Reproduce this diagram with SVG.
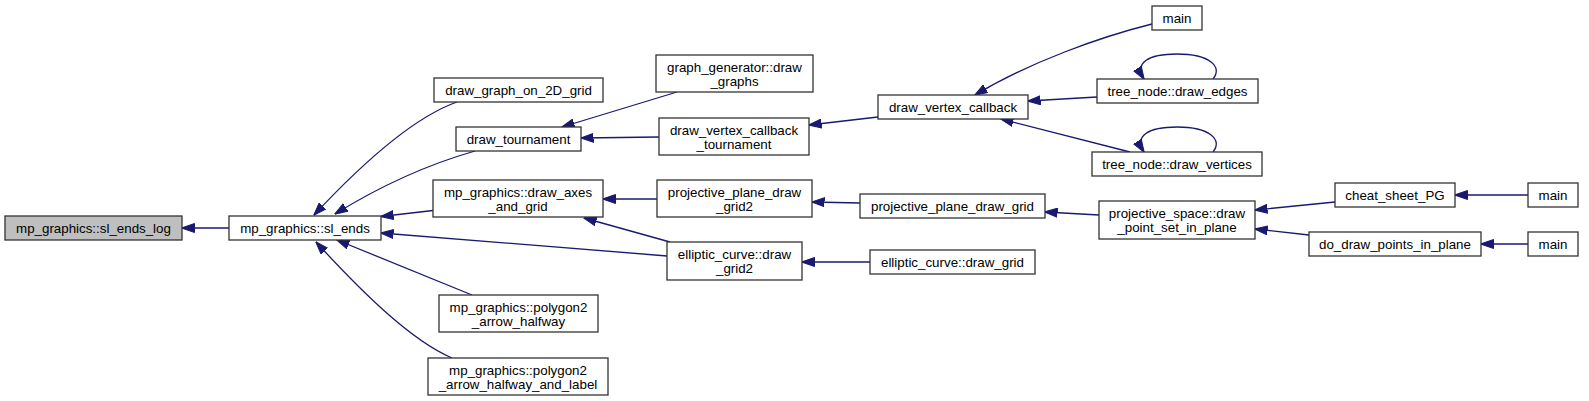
<svg xmlns="http://www.w3.org/2000/svg" width="1589" height="401" viewBox="0 0 1589 401">
<style>
.n rect{fill:#ffffff;stroke:#333333;stroke-width:1.3}
.n.hl rect{fill:#bfbfbf}
.n text{font-family:"Liberation Sans",Arial,Helvetica,sans-serif;font-size:13.33px;fill:#000000;text-anchor:middle}
.e path{fill:none;stroke:#191970;stroke-width:1.3;marker-end:url(#ah)}
</style>
<defs>
<marker id="ah" markerUnits="userSpaceOnUse" markerWidth="13" markerHeight="10" viewBox="0 0 13 10" refX="12.5" refY="5" orient="auto">
<path d="M0,0.5 L13,5 L0,9.5 z" fill="#191970" stroke="#191970" stroke-width="1"/>
</marker>
</defs>
<rect x="0" y="0" width="1589" height="401" fill="#ffffff"/>
<g id="connectors" class="e">
<path d="M229,228 L182,228"/>
<path d="M457,102 C420,115 370,155 314,215"/>
<path d="M475,151 C440,161 390,180 335,214"/>
<path d="M433,210.5 L381,216.5"/>
<path d="M667,256 L381,233"/>
<path d="M472,295 L337,240"/>
<path d="M452,358 C410,340 360,290 316,242"/>
<path d="M677,92 L562,127"/>
<path d="M659,137 L581,138"/>
<path d="M878,117 L809,125"/>
<path d="M657,199 L603,199"/>
<path d="M670,242 L584,218"/>
<path d="M860,203 L812,202"/>
<path d="M870,262 L802,262"/>
<path d="M1152,24 C1100,37 1030,62 975,95"/>
<path d="M1097,97 L1028,101"/>
<path d="M1130,152 L1001,119"/>
<path d="M1213,79 C1223,67 1210,54 1177,54 C1148,54 1134,63 1144,79"/>
<path d="M1213,152 C1223,140 1210,127 1177,127 C1148,127 1134,136 1144,152"/>
<path d="M1099,215 L1045,212"/>
<path d="M1335,202 L1255,210"/>
<path d="M1309,235 L1255,229"/>
<path d="M1528,195 L1455,195"/>
<path d="M1528,244 L1481,244"/>
</g>
<g id="node_sl_ends_log" class="n hl"><rect x="5" y="216" width="177" height="24"/><text x="93.5" y="233">mp_graphics::sl_ends_log</text></g>
<g id="node_sl_ends" class="n"><rect x="229" y="216" width="152" height="24"/><text x="305" y="233">mp_graphics::sl_ends</text></g>
<g id="node_draw_graph_on_2D_grid" class="n"><rect x="434" y="78" width="169" height="24"/><text x="518.5" y="95">draw_graph_on_2D_grid</text></g>
<g id="node_draw_tournament" class="n"><rect x="456" y="127" width="125" height="24"/><text x="518.5" y="144">draw_tournament</text></g>
<g id="node_draw_axes_and_grid" class="n"><rect x="433" y="180" width="170" height="37"/><text x="518" y="196.5">mp_graphics::draw_axes</text><text x="518" y="210.5">_and_grid</text></g>
<g id="node_polygon2_arrow_halfway" class="n"><rect x="439" y="295" width="159" height="37"/><text x="518.5" y="311.5">mp_graphics::polygon2</text><text x="518.5" y="325.5">_arrow_halfway</text></g>
<g id="node_polygon2_arrow_halfway_and_label" class="n"><rect x="428" y="358" width="180" height="37"/><text x="518" y="374.5">mp_graphics::polygon2</text><text x="518" y="388.5">_arrow_halfway_and_label</text></g>
<g id="node_graph_generator_draw_graphs" class="n"><rect x="656" y="55" width="157" height="37"/><text x="734.5" y="71.5">graph_generator::draw</text><text x="734.5" y="85.5">_graphs</text></g>
<g id="node_draw_vertex_callback_tournament" class="n"><rect x="659" y="118" width="150" height="37"/><text x="734" y="134.5">draw_vertex_callback</text><text x="734" y="148.5">_tournament</text></g>
<g id="node_projective_plane_draw_grid2" class="n"><rect x="657" y="180" width="155" height="37"/><text x="734.5" y="196.5">projective_plane_draw</text><text x="734.5" y="210.5">_grid2</text></g>
<g id="node_elliptic_curve_draw_grid2" class="n"><rect x="667" y="242" width="135" height="38"/><text x="734.5" y="258.5">elliptic_curve::draw</text><text x="734.5" y="272.5">_grid2</text></g>
<g id="node_draw_vertex_callback" class="n"><rect x="878" y="95" width="150" height="24"/><text x="953" y="112">draw_vertex_callback</text></g>
<g id="node_projective_plane_draw_grid" class="n"><rect x="860" y="194" width="185" height="24"/><text x="952.5" y="211">projective_plane_draw_grid</text></g>
<g id="node_elliptic_curve_draw_grid" class="n"><rect x="870" y="250" width="165" height="24"/><text x="952.5" y="267">elliptic_curve::draw_grid</text></g>
<g id="node_main_1" class="n"><rect x="1152" y="6" width="50" height="24"/><text x="1177" y="23">main</text></g>
<g id="node_tree_node_draw_edges" class="n"><rect x="1097" y="79" width="161" height="24"/><text x="1177.5" y="96">tree_node::draw_edges</text></g>
<g id="node_tree_node_draw_vertices" class="n"><rect x="1092" y="152" width="170" height="24"/><text x="1177" y="169">tree_node::draw_vertices</text></g>
<g id="node_projective_space_draw_point_set_in_plane" class="n"><rect x="1099" y="201" width="156" height="38"/><text x="1177" y="217.5">projective_space::draw</text><text x="1177" y="231.5">_point_set_in_plane</text></g>
<g id="node_cheat_sheet_PG" class="n"><rect x="1335" y="183" width="120" height="24"/><text x="1395" y="200">cheat_sheet_PG</text></g>
<g id="node_main_2" class="n"><rect x="1528" y="183" width="50" height="24"/><text x="1553" y="200">main</text></g>
<g id="node_do_draw_points_in_plane" class="n"><rect x="1309" y="232" width="172" height="24"/><text x="1395" y="249">do_draw_points_in_plane</text></g>
<g id="node_main_3" class="n"><rect x="1528" y="232" width="50" height="24"/><text x="1553" y="249">main</text></g>
</svg>
